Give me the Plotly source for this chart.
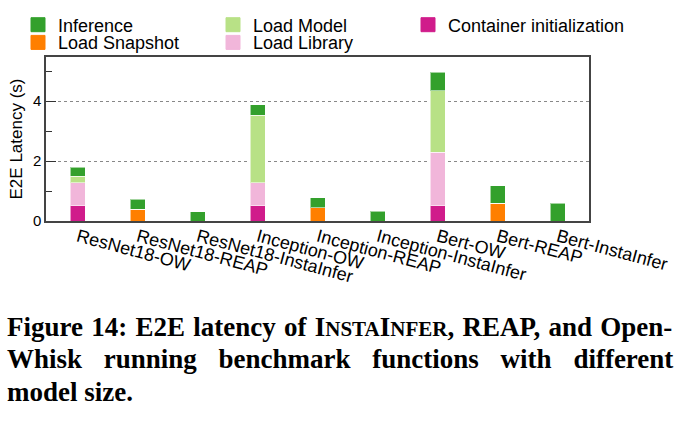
import plotly.graph_objects as go

categories = ["ResNet18-OW", "ResNet18-REAP", "ResNet18-InstaInfer",
              "Inception-OW", "Inception-REAP", "Inception-InstaInfer",
              "Bert-OW", "Bert-REAP", "Bert-InstaInfer"]

container_init = [0.51, 0, 0, 0.51, 0, 0, 0.51, 0, 0]
load_snapshot = [0, 0.40, 0, 0, 0.45, 0, 0, 0.59, 0]
load_library = [0.76, 0, 0, 0.76, 0, 0, 1.78, 0, 0]
load_model = [0.22, 0, 0, 2.26, 0, 0, 2.06, 0, 0]
inference = [0.31, 0.32, 0.31, 0.34, 0.33, 0.33, 0.61, 0.59, 0.60]

series = [
    ("Container initialization", container_init, "#d01c8b", "legend3", 1),
    ("Load Snapshot", load_snapshot, "#ff7f00", "legend2", 1),
    ("Load Library", load_library, "#f1b6da", "legend2", 2),
    ("Load Model", load_model, "#b8e186", "legend", 2),
    ("Inference", inference, "#33a02c", "legend", 1),
]

y_ticks = [0, 2, 4]
y_minor_ticks = [1, 3, 5]

W, H = 691, 426
L, R, T, B = 46, 589, 57, 221
pw, ph = R - L, B - T

def px_x(p):
    return (p - L) / pw

def px_y(p):
    return (B - p) / ph

fig = go.Figure()
for name, vals, color, leg, rank in series:
    fig.add_trace(go.Bar(
        x=categories, y=vals, name=name, width=0.25,
        marker=dict(color=color, line=dict(color="rgba(255,255,255,0.55)", width=1)),
        showlegend=False,
    ))
for name, vals, color, leg, rank in series:
    fig.add_trace(go.Scatter(
        x=[None], y=[None], mode="markers", name=name,
        marker=dict(symbol="square", size=14, color=color,
                    line=dict(color=color, width=1)),
        legend=leg, legendrank=rank, showlegend=True,
    ))

legend_common = dict(
    orientation="h", xanchor="left", yanchor="top",
    entrywidth=150, entrywidthmode="pixels", traceorder="normal",
    font=dict(family="Liberation Sans, Arial, sans-serif", size=18, color="#000"),
    bgcolor="rgba(0,0,0,0)", borderwidth=0,
)
legend3_opts = dict(legend_common)
legend3_opts["entrywidth"] = 200

fig.update_layout(
    width=W, height=H,
    margin=dict(l=L, r=W - R, t=T, b=H - B, autoexpand=False),
    paper_bgcolor="white", plot_bgcolor="white",
    barmode="stack",
    font=dict(family="Liberation Sans, Arial, sans-serif", color="#000"),
    legend=dict(x=px_x(18), y=px_y(6.5), **legend_common),
    legend2=dict(x=px_x(18), y=px_y(24.2), **legend_common),
    legend3=dict(x=px_x(408), y=px_y(6.5), **legend3_opts),
    xaxis=dict(
        type="category", range=[-0.53, 8.52],
        showline=True, mirror=True, linecolor="#444", linewidth=1.5,
        ticks="", tickangle=15, ticklabelstandoff=-3,
        tickfont=dict(size=18, color="#000"),
        showgrid=False, zeroline=False,
    ),
    yaxis=dict(
        range=[0, 5.47],
        tickvals=y_ticks, ticktext=[str(v) for v in y_ticks],
        ticks="inside", ticklen=10, tickwidth=1.2, tickcolor="#333",
        minor=dict(tickvals=y_minor_ticks, ticks="inside", ticklen=6,
                   tickwidth=1.2, tickcolor="#333", showgrid=False),
        showline=True, mirror=True, linecolor="#444", linewidth=1.5,
        showgrid=True, gridcolor="#888", griddash="dot", gridwidth=1,
        zeroline=False,
        tickfont=dict(size=15, color="#000"),
        title=dict(text="E2E Latency (s)", font=dict(size=17, color="#000"), standoff=6),
        automargin=False,
    ),
)

cap_font = dict(family="Liberation Serif, Times New Roman, serif", size=27, color="#000")
caption_lines = [
    ("<b><span style='word-spacing:1.5px'>Figure 14: E2E latency of I<span style='font-size:21px'>NSTA</span>I"
     "<span style='font-size:21px'>NFER</span>, REAP, and Open-</span></b>", 337),
    ("<b><span style='word-spacing:15px'>Whisk running benchmark functions with different</span></b>", 369),
    ("<b>model size.</b>", 402),
]
for text, base in caption_lines:
    fig.add_annotation(
        text=text, xref="paper", yref="paper",
        x=px_x(5), y=px_y(base + 7), xanchor="left", yanchor="bottom",
        showarrow=False, align="left", font=cap_font,
    )

fig.write_html("out.html")
